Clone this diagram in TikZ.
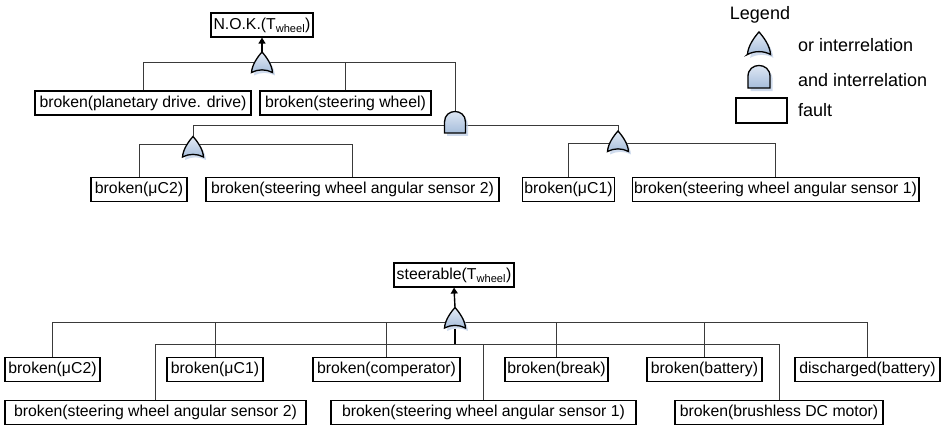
\documentclass[tikz,border=0pt]{standalone}
\usepackage{fontspec}
\setmainfont{Liberation Sans}
\usetikzlibrary{arrows.meta}

\definecolor{gatetop}{HTML}{E6EDF7}
\definecolor{gatebot}{HTML}{A6BDDB}
\definecolor{gateshade}{HTML}{BCCDE6}
\definecolor{wire}{HTML}{3A3A3A}

\tikzset{
  fault/.style={draw=black, line width=1.2pt, fill=white, inner xsep=2pt, inner ysep=0pt,
    minimum height=24pt, font=\fontsize{15.8}{18}\selectfont},
  gatenode/.style={inner sep=0pt, minimum width=21pt, minimum height=21pt},
  wireline/.style={draw=wire, line width=0.9pt},
  uparrow/.style={draw=black, line width=1.4pt, -{Triangle[length=6pt,width=7pt]}},
  legendtext/.style={font=\fontsize{18}{21}\selectfont, inner sep=0pt},
  gateline/.style={draw=black, line width=1.3pt, top color=gatetop, bottom color=gatebot},
  orshape/.pic={
    \fill[gateshade, opacity=0.7, shift={(2.5,3)}]
      (-10.5,10) .. controls (-10,2) and (-4,-6) .. (0,-10.5)
      .. controls (4,-6) and (10,2) .. (10.5,10)
      .. controls (4,6.5) and (-4,6.5) .. cycle;
    \path[gateline]
      (-10.5,10) .. controls (-10,2) and (-4,-6) .. (0,-10.5)
      .. controls (4,-6) and (10,2) .. (10.5,10)
      .. controls (4,6.5) and (-4,6.5) .. cycle;
  },
  andshape/.pic={
    \fill[gateshade, opacity=0.7, shift={(2.5,3)}]
      (-10.5,11) -- (-10.5,0) .. controls (-10.5,-14) and (10.5,-14) .. (10.5,0)
      -- (10.5,11) -- cycle;
    \path[gateline]
      (-10.5,11) -- (-10.5,0) .. controls (-10.5,-14) and (10.5,-14) .. (10.5,0)
      -- (10.5,11) -- cycle;
  },
}

\begin{document}
\begin{tikzpicture}[x=1pt, y=-1pt]
\useasboundingbox[fill=white] (0,0) rectangle (946,427);

% ---------- upper tree: N.O.K.(T_wheel) ----------
\node[fault, minimum width=102pt] (nok) at (262,25) {N.O.K.(T\textsubscript{wheel})};
\node[fault, minimum width=216pt] (planet) at (143,103) {broken(planetary drive. drive)};
\node[fault, minimum width=171pt] (wheel) at (345.5,103) {broken(steering wheel)};
\node[fault, minimum width=96pt]  (uctwoA) at (139,189.5) {broken(μC2)};
\node[fault, minimum width=293pt] (senstwoA) at (352.5,189.5) {broken(steering wheel angular sensor 2)};
\node[fault, minimum width=91pt]  (umoneA) at (568.5,189.5) {broken(μC1)};
\node[fault, minimum width=285pt] (sensoneA) at (775.5,189.5) {broken(steering wheel angular sensor 1)};

\node[gatenode] (orA) at (262,62.5) {};
\node[gatenode] (andA) at (455,122) {};
\node[gatenode] (orB) at (193,147) {};
\node[gatenode] (orC) at (618,141.5) {};

% ---------- lower tree: steerable(T_wheel) ----------
\node[fault, minimum width=120pt] (steer) at (454,275) {steerable(T\textsubscript{wheel})};
\node[fault, minimum width=95pt]  (uctwoB) at (52.5,369.5) {broken(μC2)};
\node[fault, minimum width=96pt]  (umoneB) at (215,369.5) {broken(μC1)};
\node[fault, minimum width=147pt] (comp) at (386.5,369.5) {broken(comperator)};
\node[fault, minimum width=103pt] (brk) at (556.5,369.5) {broken(break)};
\node[fault, minimum width=115pt] (bat) at (704.5,369.5) {broken(battery)};
\node[fault, minimum width=145pt] (dis) at (867.5,369.5) {discharged(battery)};
\node[fault, minimum width=301pt] (senstwoB) at (155.5,412.5) {broken(steering wheel angular sensor 2)};
\node[fault, minimum width=305pt] (sensoneB) at (483.5,412.5) {broken(steering wheel angular sensor 1)};
\node[fault, minimum width=208pt] (bldc) at (779,412.5) {broken(brushless DC motor)};

\node[gatenode] (orD) at (455,318) {};
\coordinate (split) at (455,344);

% ---------- connectors ----------
\draw[uparrow] (orA.north) -- (nok.south);
\draw[wireline] (planet.north) |- (orA.center);
\draw[wireline] (wheel.north) |- (orA.center);
\draw[wireline] (andA.north) |- (orA.center);

\draw[wireline] (orB.north) |- ([yshift=-3pt]andA.center);
\draw[wireline] (orC.north) |- ([yshift=-3pt]andA.center);

\draw[wireline] (uctwoA.north) |- ([yshift=3pt]orB.center);
\draw[wireline] (senstwoA.north) |- ([yshift=3pt]orB.center);
\draw[wireline] (umoneA.north) |- ([yshift=-1.5pt]orC.center);
\draw[wireline] (sensoneA.north) |- ([yshift=-1.5pt]orC.center);

\draw[uparrow] (orD.north) -- (steer.south);
\foreach \leaf in {uctwoB, umoneB, comp, brk, bat, dis}
  \draw[wireline] (\leaf.north) |- ([yshift=-4pt]orD.center);
\draw[draw=black, line width=1.3pt] (orD.south) -- (split);
\foreach \leaf in {senstwoB, sensoneB, bldc}
  \draw[wireline] (\leaf.north) |- (split);

% ---------- gate symbols ----------
\pic at (orA.center) {orshape};
\pic at (andA.center) {andshape};
\pic at (orB.center) {orshape};
\pic at (orC.center) {orshape};
\pic at (orD.center) {orshape};

% ---------- legend ----------
\node[legendtext] (legend) at (760,15) {Legend};
\node[gatenode] (legor) at (759,43.5) {};
\node[gatenode] (legand) at (759,76.5) {};
\pic[scale=1.1] at (legor.center) {orshape};
\pic[scale=1.05] at (legand.center) {andshape};
\node[draw=black, line width=1.2pt, minimum width=51pt, minimum height=25pt, inner sep=0pt]
  (legfault) at (761.5,110.5) {};
\node[legendtext, anchor=west] (legortext) at (798,45) {or interrelation};
\node[legendtext, anchor=west] (legandtext) at (798,80) {and interrelation};
\node[legendtext, anchor=west] (legfaulttext) at (798,110.5) {fault};
\end{tikzpicture}
\end{document}
